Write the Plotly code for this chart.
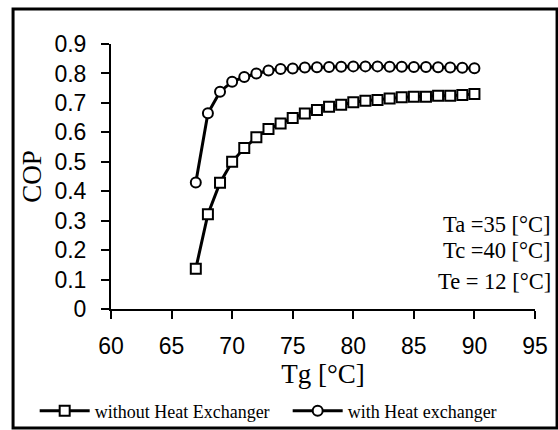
import plotly.graph_objects as go

tg = list(range(67, 91))

cop_without_hx = [0.137, 0.322, 0.429, 0.500, 0.547, 0.583, 0.611, 0.630, 0.649, 0.664,
                  0.676, 0.687, 0.694, 0.702, 0.707, 0.710, 0.715, 0.719, 0.721, 0.721,
                  0.724, 0.724, 0.727, 0.730]

cop_with_hx = [0.430, 0.665, 0.738, 0.772, 0.788, 0.800, 0.810, 0.815, 0.817, 0.820,
               0.821, 0.822, 0.823, 0.824, 0.824, 0.824, 0.823, 0.823, 0.822, 0.822,
               0.821, 0.820, 0.819, 0.818]

conditions = ["Ta =35 [°C]", "Tc =40 [°C]", "Te = 12 [°C]"]
condition_y = [0.317, 0.222, 0.105]

serif = "Liberation Serif, Times New Roman, serif"
sans = "Liberation Sans, Arial, sans-serif"

fig = go.Figure()
fig.add_trace(go.Scatter(
    x=tg, y=cop_without_hx, name="without Heat Exchanger", mode="lines+markers",
    line=dict(color="black", width=3),
    marker=dict(symbol="square", size=10, color="white", line=dict(color="black", width=2))
))
fig.add_trace(go.Scatter(
    x=tg, y=cop_with_hx, name="with Heat exchanger", mode="lines+markers",
    line=dict(color="black", width=3),
    marker=dict(symbol="circle", size=10, color="white", line=dict(color="black", width=2))
))

# condition labels on the right
for txt, yy in zip(conditions, condition_y):
    fig.add_annotation(
        text=txt, xref="paper", yref="paper", x=1.042, y=yy,
        xanchor="right", yanchor="middle", showarrow=False,
        font=dict(family=serif, size=22.5, color="black")
    )

# frame around the whole figure
fig.add_shape(type="rect", xref="paper", yref="paper",
              x0=-0.231, x1=1.052, y0=-0.449, y1=1.132,
              line=dict(color="black", width=3))

fig.update_layout(
    width=558, height=430,
    margin=dict(l=111, r=23, t=44, b=121, autoexpand=False),
    paper_bgcolor="white", plot_bgcolor="white",
    showlegend=True,
    legend=dict(
        orientation="h", x=-0.18, y=-0.385, xanchor="left", yanchor="middle",
        font=dict(family=serif, size=18, color="black"),
        itemwidth=50, entrywidth=188, entrywidthmode="pixels", tracegroupgap=0,
        bgcolor="rgba(0,0,0,0)"
    ),
    xaxis=dict(
        range=[60, 95], dtick=5, tick0=60,
        showline=True, linecolor="black", linewidth=2,
        ticks="outside", ticklen=8, tickwidth=2, tickcolor="black",
        showgrid=False, zeroline=False, ticklabelstandoff=7,
        tickfont=dict(family=sans, size=23, color="black"),
        title=dict(text="Tg [°C]", standoff=3,
                   font=dict(family=serif, size=27, color="black"))
    ),
    yaxis=dict(
        range=[0, 0.9], dtick=0.1, tick0=0,
        showline=True, linecolor="black", linewidth=2,
        ticks="outside", ticklen=8, tickwidth=2, tickcolor="black",
        showgrid=False, zeroline=False, ticklabelstandoff=10,
        tickfont=dict(family=sans, size=23, color="black"),
        title=dict(text="COP", standoff=5,
                   font=dict(family=serif, size=27, color="black"))
    ),
)

# drop the default page margin so the figure sits at the window corner
fig.write_html("out.html", config={"displayModeBar": False},
               post_script="document.body.style.margin = '0';")
